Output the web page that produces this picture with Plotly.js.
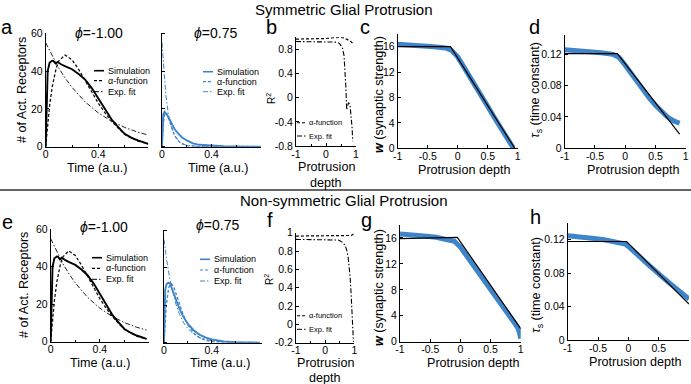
<!DOCTYPE html>
<html><head><meta charset="utf-8">
<script src="https://cdn.plot.ly/plotly-3.0.1.min.js"></script>
<style>html,body{margin:0;padding:0;background:#fff}#chart{width:691px;height:384px}</style>
</head><body><div id="chart"></div>
<script>
// ---------- data ----------
// phi = -1.00 (used for panels a and e)
const tSimNeg   = [0, 0.005, 0.015, 0.03, 0.05, 0.06, 0.075, 0.09, 0.1, 0.12, 0.15, 0.2, 0.25, 0.3, 0.35, 0.4, 0.45, 0.5, 0.55, 0.6, 0.65, 0.7, 0.78];
const simNeg    = [0, 20, 40, 44.5, 45.5, 45.3, 44, 44.8, 44.5, 43.5, 42.5, 41, 38.5, 35.5, 31, 25.5, 19.5, 14.5, 10.5, 6.8, 4.8, 3.3, 1.5];
const tAlphaNeg = [0, 0.01, 0.03, 0.05, 0.08, 0.1, 0.147, 0.2, 0.25, 0.3, 0.35, 0.4, 0.45, 0.5, 0.6, 0.7, 0.78];
const alphaNeg  = [0, 8.4, 21.9, 31.9, 41.6, 45.4, 48.5, 46, 40.9, 35, 29, 23, 18, 13.5, 6.5, 3, 1.5];
const tExpNeg   = [0, 0.05, 0.1, 0.15, 0.2, 0.3, 0.4, 0.5, 0.6, 0.7, 0.78];
const expNeg    = [55, 47.8, 41.5, 36.1, 31.4, 23.7, 17.9, 13.5, 10.2, 7.7, 6.2];

// phi = 0.75, symmetric (panel a, right)
const tSimSym   = [0, 0.005, 0.01, 0.02, 0.03, 0.04, 0.06, 0.08, 0.1, 0.13, 0.16, 0.2, 0.25, 0.3, 0.4, 0.5, 0.6, 0.8];
const simSym    = [0, 12, 17, 18.5, 18, 17, 14.5, 12, 9.5, 7, 5, 3.3, 1.8, 1, 0.4, 0.2, 0.1, 0];
const tAlphaSym = [0, 0.005, 0.01, 0.02, 0.03, 0.04, 0.06, 0.08, 0.1, 0.13, 0.16, 0.2, 0.25, 0.3, 0.4, 0.8];
const alphaSym  = [0, 7, 11.5, 16.5, 18, 17.3, 13.5, 9.5, 6.2, 3.2, 1.6, 0.6, 0.2, 0.05, 0, 0];
const tExpSym   = [0, 0.01, 0.02, 0.03, 0.05, 0.07, 0.1, 0.15, 0.2, 0.3, 0.4, 0.6, 0.8];
const expSym    = [55, 44, 35, 28, 18, 11.5, 6, 2, 0.7, 0.1, 0, 0, 0];

// phi = 0.75, non-symmetric (panel e, right)
const tSimNon   = [0, 0.005, 0.01, 0.02, 0.035, 0.05, 0.07, 0.1, 0.13, 0.16, 0.2, 0.25, 0.3, 0.35, 0.4, 0.5, 0.6, 0.7, 0.8];
const simNon    = [0, 20, 28, 31, 32, 31.5, 28.5, 23, 18, 14, 10, 6.5, 4.2, 2.7, 1.7, 0.7, 0.3, 0.1, 0.05];
const tAlphaNon = [0, 0.005, 0.01, 0.02, 0.04, 0.06, 0.08, 0.1, 0.13, 0.16, 0.2, 0.25, 0.3, 0.35, 0.4, 0.5, 0.6, 0.8];
const alphaNon  = [0, 6.5, 12, 20.5, 29.5, 31.5, 30, 26.5, 20.5, 15, 9.5, 5, 2.5, 1.2, 0.6, 0.1, 0, 0];
const tExpNon   = [0, 0.02, 0.05, 0.08, 0.1, 0.13, 0.16, 0.2, 0.25, 0.3, 0.4, 0.5, 0.6, 0.8];
const expNon    = [55, 45, 33.5, 25, 20.5, 15, 11, 7.5, 4.5, 2.7, 1, 0.4, 0.15, 0.02];

// R^2 vs protrusion depth (panels b, f)
const depthAlphaB = [-1, -0.8, -0.6, -0.4, -0.2, 0, 0.2, 0.4, 0.5, 0.6, 0.7, 0.8, 0.9];
const r2AlphaB    = [0.97, 0.97, 0.97, 0.97, 0.975, 0.98, 0.99, 1.0, 1.0, 0.99, 0.97, 0.94, 0.9];
const depthExpB   = [-1, -0.8, -0.6, -0.4, -0.2, 0, 0.2, 0.35, 0.45, 0.55, 0.6, 0.63, 0.66, 0.69, 0.72, 0.75, 0.8, 0.84, 0.87, 0.89];
const r2ExpB      = [0.93, 0.93, 0.93, 0.93, 0.93, 0.93, 0.93, 0.92, 0.9, 0.82, 0.7, 0.5, 0.2, -0.2, -0.15, -0.08, -0.12, -0.3, -0.5, -0.72];
const depthAlphaF = [-1, -0.5, 0, 0.5, 0.8, 0.9, 0.95, 1.0];
const r2AlphaF    = [0.963, 0.963, 0.963, 0.963, 0.965, 0.97, 0.98, 0.995];
const depthExpF   = [-1, -0.5, 0, 0.3, 0.45, 0.55, 0.63, 0.7, 0.74, 0.79, 0.83, 0.86, 0.89, 0.91, 0.93, 0.95, 0.97];
const r2ExpF      = [0.927, 0.927, 0.927, 0.926, 0.92, 0.905, 0.885, 0.85, 0.81, 0.73, 0.63, 0.5, 0.34, 0.18, 0.01, -0.1, -0.19];

// synaptic strength w (panels c, g)
const depthWC = [-1, -0.8, -0.6, -0.4, -0.2, -0.1, 0, 0.1, 0.2, 0.3, 0.4, 0.5, 0.6, 0.7, 0.8, 0.9, 0.93];
const wC      = [16.4, 16.3, 16.2, 16.0, 15.8, 15.4, 14.4, 12.9, 11.3, 9.8, 8.2, 6.6, 5.0, 3.4, 1.9, 0.4, 0];
const depthFitWC = [-1, -0.12, 0.95];
const fitWC      = [16.0, 16.0, 0];
const depthWG = [-1, -0.8, -0.6, -0.4, -0.2, -0.1, 0, 0.1, 0.2, 0.3, 0.4, 0.5, 0.6, 0.7, 0.8, 0.9, 0.95, 0.98, 1.0];
const wG      = [16.6, 16.5, 16.3, 16.1, 15.8, 15.5, 14.6, 13.3, 12.1, 10.8, 9.5, 8.2, 6.9, 5.6, 4.3, 3.0, 2.2, 1.4, 0.5];
const depthFitWG = [-1, -0.05, 1.0];
const fitWG      = [15.9, 16.1, 2.0];

// time constant tau_s (panels d, h)
const depthTauD = [-1, -0.8, -0.6, -0.4, -0.2, -0.1, 0, 0.1, 0.2, 0.3, 0.4, 0.5, 0.6, 0.7, 0.8, 0.9];
const tauD      = [0.126, 0.125, 0.123, 0.122, 0.120, 0.116, 0.106, 0.095, 0.085, 0.075, 0.064, 0.055, 0.047, 0.040, 0.035, 0.032];
const depthFitTauD = [-1, -0.13, 0.9];
const fitTauD      = [0.121, 0.121, 0.018];
const depthTauH = [-1, -0.8, -0.6, -0.4, -0.2, -0.05, 0, 0.1, 0.2, 0.3, 0.4, 0.5, 0.6, 0.7, 0.8, 0.9, 1.0];
const tauH      = [0.125, 0.124, 0.122, 0.120, 0.118, 0.115, 0.112, 0.106, 0.099, 0.092, 0.085, 0.079, 0.073, 0.067, 0.061, 0.055, 0.049];
const depthFitTauH = [-1, -0.03, 1.0];
const fitTauH      = [0.118, 0.118, 0.043];

const legendLabels = ['Simulation', 'α-function', 'Exp. fit'];
const r2Labels = ['α-function', 'Exp. fit'];

// ---------- styling / layout helpers ----------
const W = 691, H = 384;
const FONT = 'Liberation Sans, Arial, Helvetica, sans-serif';
const BLUE = '#3d84c8';
const BLACK = '#000000';
const DASH = '3px,2px';
const DASHDOT = '5px,2px,1.5px,2px';
const px = p => p / W;
const py = p => 1 - p / H;
const xd = (a, b) => [a / W, b / W];
const yd = (top, bot) => [1 - bot / H, 1 - top / H];

function ax(extra) {
  return Object.assign({
    showline: true, linecolor: '#000', linewidth: 1,
    ticks: 'inside', ticklen: 3, tickcolor: '#000', tickwidth: 1,
    showgrid: false, zeroline: false, mirror: false, fixedrange: true,
    tickfont: {family: FONT, size: 10.5, color: '#000'}
  }, extra);
}
const xax = extra => ax(Object.assign({ticklabelstandoff: -2}, extra));
function line(x, y, xa, ya, color, width, dash) {
  return {x: x, y: y, xaxis: xa, yaxis: ya, type: 'scatter', mode: 'lines',
          line: {color: color, width: width, dash: dash || 'solid'}, hoverinfo: 'skip'};
}

const BAND = 5;
const traces = [
  line(tExpNeg, expNeg, 'x', 'y', '#222', 1, DASHDOT),
  line(tAlphaNeg, alphaNeg, 'x', 'y', '#111', 1.3, DASH),
  line(tSimNeg, simNeg, 'x', 'y', BLACK, 1.9),
  line(tExpSym, expSym, 'x2', 'y2', BLUE, 1, DASHDOT),
  line(tAlphaSym, alphaSym, 'x2', 'y2', BLUE, 1.3, DASH),
  line(tSimSym, simSym, 'x2', 'y2', BLUE, 1.9),
  line(depthAlphaB, r2AlphaB, 'x3', 'y3', BLACK, 1.2, DASH),
  line(depthExpB, r2ExpB, 'x3', 'y3', BLACK, 1.1, DASHDOT),
  line(depthWC, wC, 'x4', 'y4', BLUE, BAND),
  line(depthFitWC, fitWC, 'x4', 'y4', BLACK, 1.2),
  line(depthTauD, tauD, 'x5', 'y5', BLUE, BAND),
  line(depthFitTauD, fitTauD, 'x5', 'y5', BLACK, 1.2),
  line(tExpNeg, expNeg, 'x6', 'y6', '#222', 1, DASHDOT),
  line(tAlphaNeg, alphaNeg, 'x6', 'y6', '#111', 1.3, DASH),
  line(tSimNeg, simNeg, 'x6', 'y6', BLACK, 1.9),
  line(tExpNon, expNon, 'x7', 'y7', BLUE, 1, DASHDOT),
  line(tAlphaNon, alphaNon, 'x7', 'y7', BLUE, 1.3, DASH),
  line(tSimNon, simNon, 'x7', 'y7', BLUE, 1.9),
  line(depthAlphaF, r2AlphaF, 'x8', 'y8', BLACK, 1.2, DASH),
  line(depthExpF, r2ExpF, 'x8', 'y8', BLACK, 1.1, DASHDOT),
  line(depthWG, wG, 'x9', 'y9', BLUE, BAND),
  line(depthFitWG, fitWG, 'x9', 'y9', BLACK, 1.2),
  line(depthTauH, tauH, 'x10', 'y10', BLUE, BAND),
  line(depthFitTauH, fitTauH, 'x10', 'y10', BLACK, 1.2)
];

const minorIn = (vals, len) => ({minor: {tickvals: vals, ticks: 'inside', ticklen: len || 2, tickcolor: '#000'}});
const timeTicks = Object.assign({tickvals: [0, 0.4], ticktext: ['0', '0.4']}, minorIn([0.2, 0.6]));
const recTicks = {tickvals: [0, 20, 40, 60], ticktext: ['0', '20', '40', '60']};
const recTicksBare = Object.assign({ticks: '', showticklabels: false}, minorIn([0, 20, 40, 60], 3));
const depthTicks5 = {tickvals: [-1, -0.5, 0, 0.5, 1], ticktext: ['-1', '-0.5', '0', '0.5', '1']};
const depthTicks3 = Object.assign({tickvals: [-1, 0, 1], ticktext: ['-1', '0', '1']}, minorIn([-0.5, 0.5]));
const tauTicks = {tickvals: [0, 0.04, 0.08, 0.12], ticktext: ['0', '0.04', '0.08', '0.12']};
const wTicks = {tickvals: [0, 4, 8, 12, 16], ticktext: ['0', '4', '8', '12', '16']};

const layout = {
  width: W, height: H, margin: {l: 0, r: 0, t: 0, b: 0},
  paper_bgcolor: '#fff', plot_bgcolor: 'rgba(0,0,0,0)', showlegend: false,
  font: {family: FONT, color: '#000'},
  xaxis:  xax(Object.assign({domain: xd(45.7, 148.3), range: [0, 0.78], anchor: 'y'}, timeTicks)),
  yaxis:  ax(Object.assign({domain: yd(33.3, 146.7), range: [0, 60], anchor: 'x'}, recTicks)),
  xaxis2: xax(Object.assign({domain: xd(162, 261), range: [0, 0.8], anchor: 'y2'}, timeTicks)),
  yaxis2: ax(Object.assign({domain: yd(33.3, 146.7), range: [0, 60], anchor: 'x2'}, recTicksBare)),
  xaxis3: xax(Object.assign({domain: xd(296, 356), range: [-1, 1], anchor: 'y3'}, depthTicks3)),
  yaxis3: ax({domain: yd(37.3, 146), range: [-0.8, 1.0], anchor: 'x3', tickvals: [-0.8, -0.4, 0, 0.4, 0.8], ticktext: ['-0.8', '-0.4', '0', '0.4', '0.8']}),
  xaxis4: xax(Object.assign({domain: xd(397.7, 517.7), range: [-1, 1], anchor: 'y4'}, depthTicks5)),
  yaxis4: ax(Object.assign({domain: yd(34, 148.3), range: [0, 18], anchor: 'x4'}, wTicks)),
  xaxis5: xax(Object.assign({domain: xd(564.7, 685.7), range: [-1, 1], anchor: 'y5'}, depthTicks5)),
  yaxis5: ax(Object.assign({domain: yd(35, 148.3), range: [0, 0.1447], anchor: 'x5'}, tauTicks)),
  xaxis6: xax(Object.assign({domain: xd(50.7, 149), range: [0, 0.8], anchor: 'y6'}, timeTicks)),
  yaxis6: ax(Object.assign({domain: yd(229.3, 341.7), range: [0, 60], anchor: 'x6'}, recTicks)),
  xaxis7: xax(Object.assign({domain: xd(164, 262), range: [0, 0.82], anchor: 'y7'}, timeTicks)),
  yaxis7: ax(Object.assign({domain: yd(230, 342.7), range: [0, 60], anchor: 'x7'}, recTicksBare)),
  xaxis8: xax(Object.assign({domain: xd(296, 354.3), range: [-1, 1], anchor: 'y8'}, depthTicks3)),
  yaxis8: ax({domain: yd(232.7, 342.7), range: [-0.2, 1], anchor: 'x8', tickvals: [-0.2, 0, 0.2, 0.4, 0.6, 0.8, 1], ticktext: ['-0.2', '0', '0.2', '0.4', '0.6', '0.8', '1']}),
  xaxis9: xax(Object.assign({domain: xd(400, 520.7), range: [-1, 1], anchor: 'y9'}, depthTicks5)),
  yaxis9: ax(Object.assign({domain: yd(225, 341.7), range: [0, 18], anchor: 'x9'}, wTicks)),
  xaxis10: xax(Object.assign({domain: xd(567.7, 689), range: [-1, 1], anchor: 'y10'}, depthTicks5)),
  yaxis10: ax(Object.assign({domain: yd(222.7, 340), range: [0, 0.1405], anchor: 'x10'}, tauTicks)),
  annotations: [],
  shapes: []
};

function txt(text, x, y, size, opts) {
  layout.annotations.push(Object.assign({
    text: text, xref: 'paper', yref: 'paper', x: px(x), y: py(y),
    xanchor: 'center', yanchor: 'middle', showarrow: false,
    font: {family: FONT, size: size, color: '#000'}
  }, opts || {}));
}
function legLine(x0, x1, y, color, width, dash) {
  layout.shapes.push({type: 'line', xref: 'paper', yref: 'paper',
    x0: px(x0), x1: px(x1), y0: py(y), y1: py(y),
    line: {color: color, width: width, dash: dash || 'solid'}});
}

// section titles and separator
txt('Symmetric Glial Protrusion', 344, 9, 15);
txt('Non-symmetric Glial Protrusion', 344, 200.5, 15);
layout.shapes.push({type: 'line', xref: 'paper', yref: 'paper', x0: 0, x1: 1, y0: py(190), y1: py(190), line: {color: '#333', width: 1.5}});

// panel letters
[['a', 7, 27], ['b', 271, 27], ['c', 365, 27], ['d', 534, 27],
 ['e', 7, 222], ['f', 270, 220], ['g', 366, 220], ['h', 535, 217]].forEach(p => txt(p[0], p[1], p[2], 20));

// phi titles
txt('<i>ϕ</i>=-1.00', 99, 33, 14);
txt('<i>ϕ</i>=0.75', 215, 33, 14);
txt('<i>ϕ</i>=-1.00', 104, 227, 14);
txt('<i>ϕ</i>=0.75', 217, 225, 14);

// axis titles
const AT = 12.6;
txt('# of Act. Receptors', 22, 90, AT, {textangle: -90});
txt('# of Act. Receptors', 24, 285, AT, {textangle: -90});
txt('Time (a.u.)', 97, 168, AT);
txt('Time (a.u.)', 218, 168, AT);
txt('Time (a.u.)', 100, 363, AT);
txt('Time (a.u.)', 220, 363, AT);
txt('R<sup>2</sup>', 271, 99, 10, {textangle: -90});
txt('R<sup>2</sup>', 269, 280, 10, {textangle: -90});
txt('Protrusion', 326, 167, AT);
txt('depth', 326, 183, AT);
txt('Protrusion', 325, 363, AT);
txt('depth', 325, 377.5, AT);
txt('Protrusion depth', 464, 170, AT);
txt('Protrusion depth', 633, 170, AT);
txt('Protrusion depth', 473, 363, AT);
txt('Protrusion depth', 635, 362, AT);
txt('<b><i>w</i></b> (synaptic strength)', 379, 95, AT, {textangle: -90});
txt('<b><i>w</i></b> (synaptic strength)', 379, 288, AT, {textangle: -90});
txt('<i>τ</i><sub>s</sub> (time constant)', 536, 90, AT, {textangle: -90});
txt('<i>τ</i><sub>s</sub> (time constant)', 537, 285, AT, {textangle: -90});

// legends (line sample + label)
function legend3(x0, x1, xt, ys, color) {
  legLine(x0, x1, ys[0], color, 1.6);
  legLine(x0, x1, ys[1], color, 1.2, DASH);
  legLine(x0, x1, ys[2], color, 1, DASHDOT);
  legendLabels.forEach((l, i) => txt(l, xt, ys[i], 9, {xanchor: 'left'}));
}
legend3(94, 104, 106, [70.7, 80.7, 91.7], BLACK);
legend3(203, 213, 215, [71.7, 81.7, 91.7], BLUE);
legend3(92, 102, 104, [257.7, 268.3, 279.3], BLACK);
legend3(200, 210, 211.7, [259.3, 270, 281], BLUE);
function legend2(x0, x1, xt, ys) {
  legLine(x0, x1, ys[0], BLACK, 1.1, DASH);
  legLine(x0, x1, ys[1], BLACK, 1, DASHDOT);
  r2Labels.forEach((l, i) => txt(l, xt, ys[i], 7.5, {xanchor: 'left'}));
}
legend2(297, 306, 307.3, [122.7, 136]);
legend2(297, 306, 307.3, [315.7, 329.3]);

Plotly.newPlot('chart', traces, layout, {staticPlot: true, displayModeBar: false});
</script>
</body></html>
